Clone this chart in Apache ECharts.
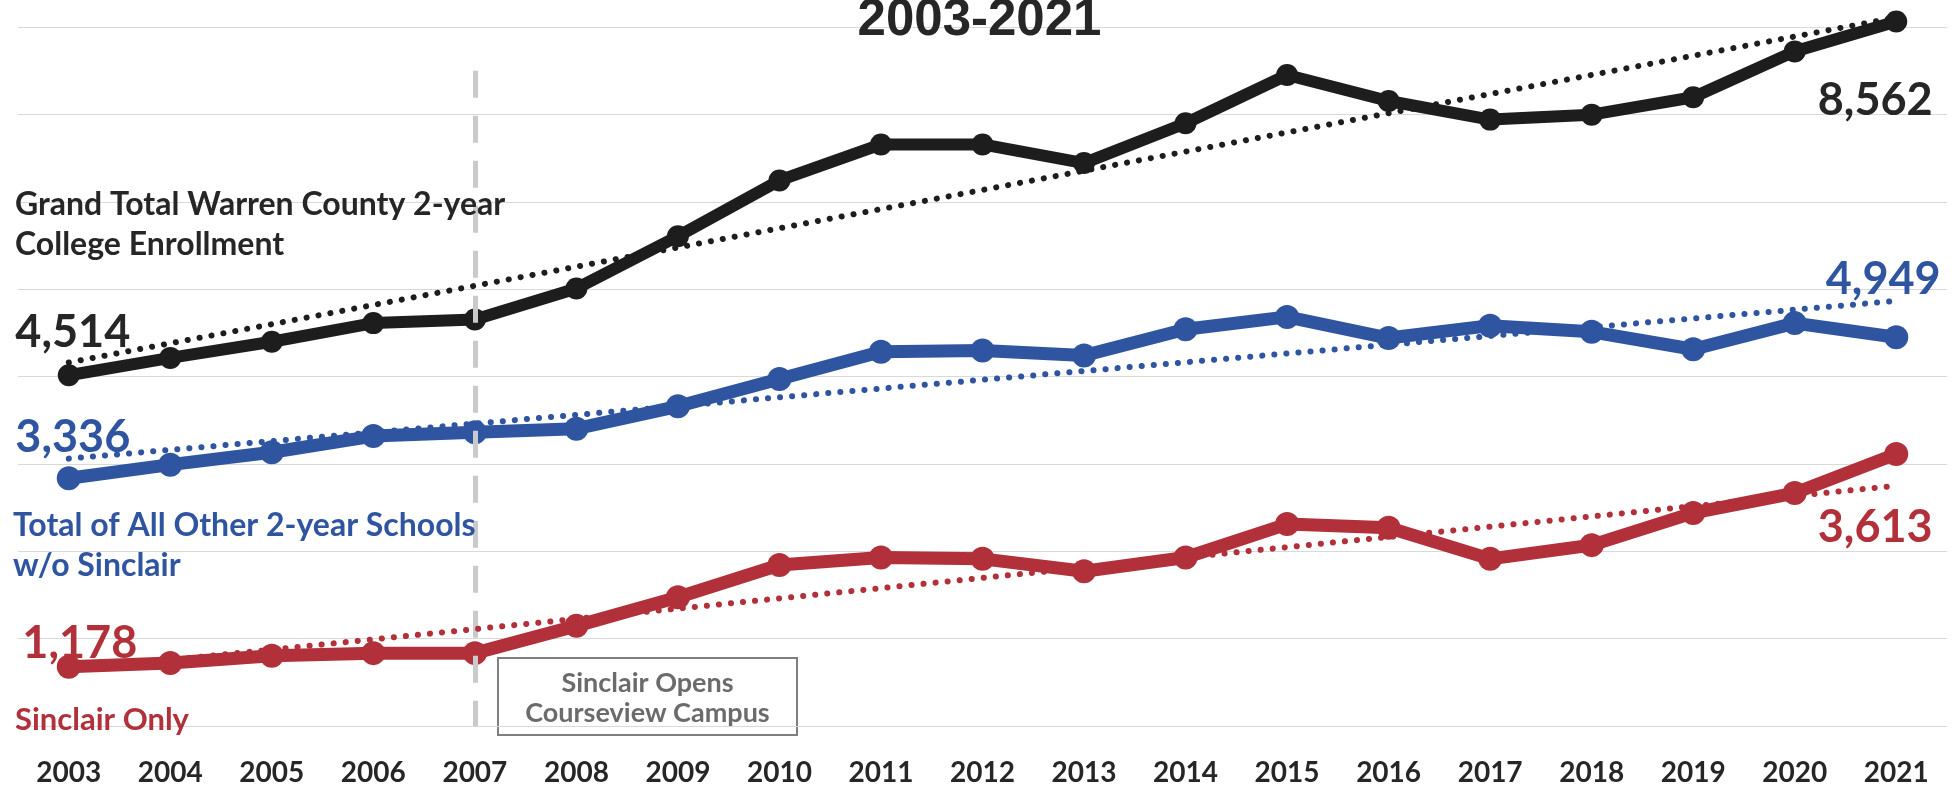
<!DOCTYPE html>
<html>
<head>
<meta charset="utf-8">
<script src="https://cdn.jsdelivr.net/npm/echarts@6/dist/echarts.min.js"></script>
<style>
html,body{margin:0;padding:0;background:#fff;}
#chart{width:1959px;height:787px;}
</style>
</head>
<body>
<div id="chart"></div>
<script>
// ---- data ----
const years = ['2003','2004','2005','2006','2007','2008','2009','2010','2011','2012','2013','2014','2015','2016','2017','2018','2019','2020','2021'];
const grandTotal   = [4514, 4713, 4898, 5111, 5153, 5508, 6105, 6744, 7156, 7156, 6943, 7398, 7951, 7653, 7440, 7497, 7696, 8221, 8562];
const otherSchools = [3336, 3491, 3633, 3818, 3861, 3903, 4159, 4471, 4784, 4798, 4741, 5040, 5182, 4940, 5082, 5011, 4812, 5111, 4949];
const sinclairOnly = [1178, 1220, 1305, 1334, 1334, 1646, 1973, 2342, 2428, 2413, 2271, 2428, 2811, 2769, 2413, 2570, 2939, 3166, 3613];
const trendYears    = ['2003', '2021'];
const grandTrend    = [4660, 8610];
const otherTrend    = [3560, 5365];
const sinclairTrend = [1140, 3250];
const markerYear = '2007';
const markerRange = [8000, 500];
const titleText = '2003-2021';
const grandName = 'Grand Total Warren County 2-year\nCollege Enrollment';
const otherName = 'Total of All Other 2-year Schools\nw/o Sinclair';
const sinclairName = 'Sinclair Only';
const noteText = 'Sinclair Opens\nCourseview Campus';

// ---- styles ----
const C_BLACK = '#1d1d1d', C_BLUE = '#2f55a1', C_RED = '#b1303a';
const FONT = 'Lato';

function endLabels(values, color, firstOff, lastOff) {
  return values.map((v, i) => {
    const item = { value: v };
    if (i === 0 || i === values.length - 1) {
      item.label = {
        show: true, position: 'inside', align: 'center', verticalAlign: 'middle',
        offset: i === 0 ? firstOff : lastOff,
        formatter: p => Number(p.value).toLocaleString('en-US'),
        color: color, fontFamily: FONT, fontWeight: 'bold', fontSize: 45
      };
    }
    return item;
  });
}
function trendData(vals) { return trendYears.map((y, i) => [y, vals[i]]); }
function trendSeries(vals, color) {
  return {
    type: 'line', data: trendData(vals), symbol: 'none', z: 5, silent: true, clip: false,
    lineStyle: { color: color, width: 6, type: [0.1, 12], cap: 'round' }
  };
}
function dataSeries(data, color, lw, ss) {
  return {
    type: 'line', data: data, symbol: 'circle', symbolSize: ss, z: 3, clip: false,
    lineStyle: { color: color, width: lw }, itemStyle: { color: color }
  };
}

const chart = echarts.init(document.getElementById('chart'), null, { renderer: 'canvas' });
chart.setOption({
  animation: false,
  backgroundColor: '#ffffff',
  grid: { left: 18, right: 12, top: 27, bottom: 56, containLabel: false },
  xAxis: {
    type: 'category', data: years, boundaryGap: true,
    axisLine: { show: false }, axisTick: { show: false },
    axisLabel: { margin: 33, color: '#262626', fontFamily: FONT, fontWeight: 'bold', fontSize: 28 }
  },
  yAxis: {
    type: 'value', min: 500, max: 8500, interval: 1000,
    axisLabel: { show: false }, axisLine: { show: false }, axisTick: { show: false },
    splitLine: { lineStyle: { color: '#d9d9d9', width: 1.2 } }
  },
  series: [
    dataSeries(endLabels(grandTotal, '#262626', [4, -43], [-21, 79]), C_BLACK, 12, 22),
    dataSeries(endLabels(otherSchools, C_BLUE, [4, -41], [-13, -58]), C_BLUE, 13, 24),
    dataSeries(endLabels(sinclairOnly, C_RED, [11, -23], [-21, 73]), C_RED, 13, 24),
    trendSeries(grandTrend, C_BLACK),
    trendSeries(otherTrend, C_BLUE),
    trendSeries(sinclairTrend, C_RED),
    {
      type: 'line', data: [], z: 6, silent: true,
      markLine: {
        symbol: 'none', silent: true, label: { show: false },
        lineStyle: { color: '#c8cace', width: 5, type: [27, 18] },
        data: [[{ coord: [markerYear, markerRange[0]] }, { coord: [markerYear, markerRange[1]] }]]
      }
    }
  ],
  graphic: [
    { type: 'text', left: 'center', top: -5, z: 20,
      style: { text: titleText, font: 'bold 51px "Liberation Sans", Arial, sans-serif', fill: '#262626' } },
    { type: 'text', x: 15, y: 185, z: 20,
      style: { text: grandName, font: 'bold 32px ' + FONT, fill: '#262626', lineHeight: 40 } },
    { type: 'text', x: 13, y: 506, z: 20,
      style: { text: otherName, font: 'bold 32px ' + FONT, fill: C_BLUE, lineHeight: 40 } },
    { type: 'text', x: 15, y: 700, z: 20,
      style: { text: sinclairName, font: 'bold 31px ' + FONT, fill: C_RED, lineHeight: 40 } },
    { type: 'group', x: 498, y: 658, z: 20, children: [
      { type: 'rect', shape: { x: 0, y: 0, width: 299, height: 77 },
        style: { fill: '#ffffff', stroke: '#7f7f7f', lineWidth: 2 } },
      { type: 'text', x: 149.5, y: 40,
        style: { text: noteText, font: 'bold 27px ' + FONT, fill: '#6b6b6b', lineHeight: 30,
                 align: 'center', verticalAlign: 'middle' } }
    ]}
  ]
});
</script>
</body>
</html>
